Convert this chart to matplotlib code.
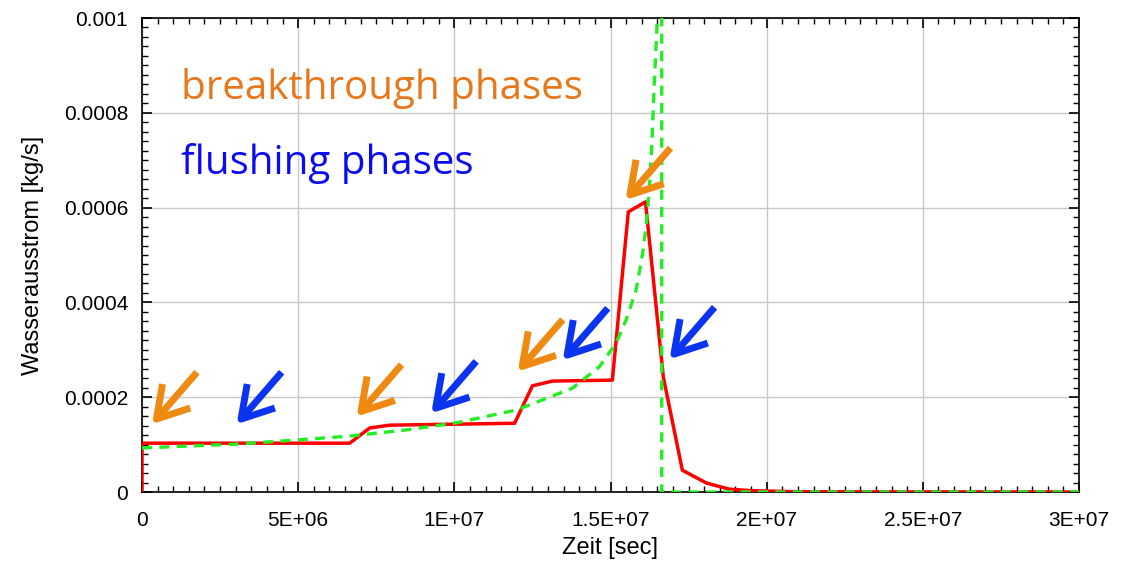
import numpy as np
import matplotlib.pyplot as plt
from matplotlib.ticker import MultipleLocator, FixedLocator

# simulated water outflow (red)
t_sim = [0, 0, 6.65e6, 7.29e6, 7.93e6, 1.193e7, 1.25e7, 1.314e7, 1.506e7,
         1.557e7, 1.612e7, 1.669e7, 1.73e7, 1.807e7, 1.88e7, 1.954e7, 2.1e7, 3.0e7]
q_sim = [0, 1.03e-4, 1.03e-4, 1.35e-4, 1.41e-4, 1.45e-4, 2.24e-4, 2.34e-4, 2.36e-4,
         5.91e-4, 6.12e-4, 2.43e-4, 4.6e-5, 1.9e-5, 6e-6, 2.7e-6, 0.5e-6, 0]

# analytical curve (green dashed)
t_ana = [0, 3.04e6, 5.0e6, 6.65e6, 8.47e6, 1.007e7, 1.199e7, 1.378e7, 1.464e7,
         1.518e7, 1.55e7, 1.582e7, 1.603e7, 1.614e7, 1.625e7, 1.633e7, 1.64e7,
         1.648e7, 1.655e7, 1.66e7, 1.664e7, 1.664e7, 3.0e7]
q_ana = [9.3e-5, 1.01e-4, 1.10e-4, 1.18e-4, 1.31e-4, 1.46e-4, 1.73e-4, 2.19e-4, 2.64e-4,
         3.14e-4, 3.63e-4, 4.26e-4, 5.04e-4, 5.6e-4, 6.44e-4, 7.43e-4, 8.6e-4,
         9.7e-4, 1.08e-3, 1.2e-3, 1.5e-3, 0, 0]

# arrow tips (time, flow)
orange_tips = [(3.2e5, 1.43e-4), (6.87e6, 1.59e-4), (1.203e7, 2.54e-4), (1.548e7, 6.16e-4)]
blue_tips = [(3.03e6, 1.43e-4), (9.26e6, 1.66e-4), (1.347e7, 2.78e-4), (1.689e7, 2.80e-4)]

xticks = [0, 5e6, 1e7, 1.5e7, 2e7, 2.5e7, 3e7]
xlabels = ['0', '5E+06', '1E+07', '1.5E+07', '2E+07', '2.5E+07', '3E+07']
yticks = [0, 0.0002, 0.0004, 0.0006, 0.0008, 0.001]
ylabels = ['0', '0.0002', '0.0004', '0.0006', '0.0008', '0.001']

orange = '#e8761a'
orange_arrow = '#ee8a12'
blue_arrow = '#0a34f0'

plt.rcParams['font.family'] = ['Liberation Sans', 'DejaVu Sans']
fig = plt.figure(figsize=(11.22, 5.62), dpi=100)
ax = fig.add_axes([142/1122, 70/562, (1079-142)/1122, (492-18)/562])

ax.plot(t_sim, q_sim, color='#ff0000', lw=2.5, zorder=3)
ax.plot(t_ana, q_ana, color='#22ee22', lw=2.4, ls=(0, (3, 2.2)), zorder=4)

ax.set_xlim(0, 3e7)
ax.set_ylim(0, 0.001)
ax.xaxis.set_major_locator(FixedLocator(xticks))
ax.set_xticklabels(xlabels)
ax.yaxis.set_major_locator(FixedLocator(yticks))
ax.set_yticklabels(ylabels)
ax.xaxis.set_minor_locator(MultipleLocator(5e5))
ax.yaxis.set_minor_locator(MultipleLocator(2e-5))
ax.tick_params(which='both', direction='in', top=True, right=True, labelsize=15)
ax.tick_params(axis='x', which='major', pad=14)
ax.tick_params(axis='y', which='major', pad=10)
ax.tick_params(which='major', length=7, width=1.2)
ax.tick_params(which='minor', length=4, width=1)
ax.grid(True, which='major', color='#c8c8c8', lw=1)
ax.set_axisbelow(True)
for s in ax.spines.values():
    s.set_linewidth(1.2)

ax.set_xlabel('Zeit [sec]', fontsize=17, labelpad=5)
ax.set_ylabel('Wasserausstrom [kg/s]', fontsize=17, labelpad=14)

ax.text(0.042, 0.83, 'breakthrough phases', transform=ax.transAxes, color=orange,
        fontsize=29, family=['Open Sans', 'DejaVu Sans'])
ax.text(0.042, 0.67, 'flushing phases', transform=ax.transAxes, color='#0a0af5',
        fontsize=29, family=['Open Sans', 'DejaVu Sans'])

for tips, c in [(orange_tips, orange_arrow), (blue_tips, blue_arrow)]:
    for tx, ty in tips:
        ax.annotate('', xy=(tx, ty), xytext=(45, 52), textcoords='offset pixels',
                    arrowprops=dict(arrowstyle='->,head_length=1.0,head_width=0.6',
                                    color=c, lw=5, mutation_scale=22,
                                    shrinkA=0, shrinkB=0, capstyle='butt'),
                    zorder=5)

fig.savefig('out.png', dpi=100)
